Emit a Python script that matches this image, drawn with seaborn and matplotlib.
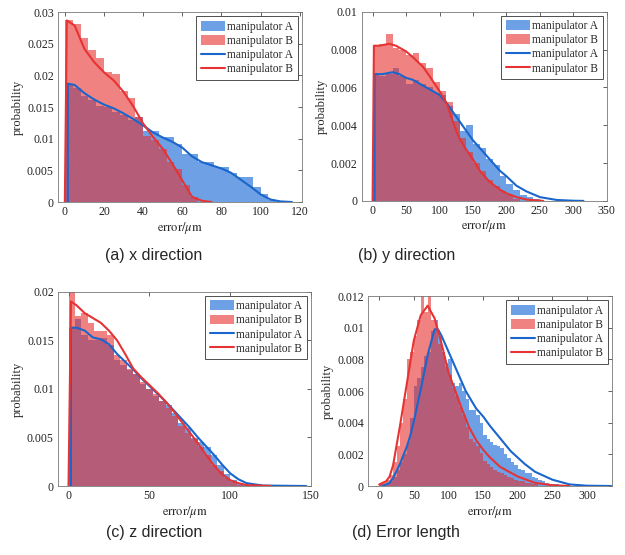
import numpy as np
import pandas as pd
import matplotlib
matplotlib.use("Agg")
import matplotlib.pyplot as plt
import seaborn as sns
from matplotlib import font_manager
from matplotlib.ticker import FuncFormatter

# ---- panel (a) x direction : bar heights per bin, then density curves ----
a_width = 4
a_blue = [.0185, .0181, .0168, .0162, .0152, .0150, .0143, .0138, .0130, .0134,
          .0112, .0112, .0103, .0103, .0092, .0076, .0076, .0063, .0063, .0055,
          .0055, .0046, .0040, .0040, .0024, .0013, .0003]
a_red = [.0287, .0281, .0260, .0240, .0228, .0205, .0203, .0175, .0165, .0135,
         .0105, .0098, .0084, .0063, .0052, .0027, .0008]
a_blue_x = [1.5, 1.5, 5, 10, 15, 20, 25, 30, 35, 40, 45, 50, 55, 60, 65, 70, 75,
            80, 85, 90, 95, 100, 105, 110, 116]
a_blue_y = [0, .0187, .0185, .0172, .0162, .0154, .0148, .0140, .0131, .0121,
            .0110, .0102, .0095, .0086, .0072, .0063, .0058, .0053, .0046, .0035,
            .0024, .0012, .0004, .0001, 0]
a_red_x = [0, 1, 5, 10, 15, 20, 25, 30, 35, 40, 45, 50, 55, 60, 65, 70, 75]
a_red_y = [0, .0287, .0279, .0242, .0221, .0205, .0192, .0174, .0151, .0124,
           .0103, .0084, .0060, .0034, .0008, .0002, 0]

# ---- panel (b) y direction ----
b_width = 10
b_blue = [.0067, .0066, .0067, .0070, .0066, .0062, .0064, .0062, .0060, .0057,
          .0056, .0050, .0046, .0037, .0040, .0030, .0028, .0022, .0019, .0013,
          .0009, .0006, .0003, .0002, .0001]
b_red = [.0082, .0083, .0088, .0081, .0080, .0077, .0078, .0073, .0070, .0063,
         .0058, .0052, .0042, .0033, .0026, .0020, .0016, .0011, .0008, .0005,
         .0003, .0001]
b_blue_x = [3, 3, 15, 30, 40, 50, 60, 75, 90, 100, 110, 120, 130, 140, 150, 160,
            175, 190, 200, 215, 230, 250, 275, 300, 315]
b_blue_y = [0, .0067, .0067, .0068, .0067, .0065, .0064, .0061, .0058, .0056,
            .0052, .0047, .0042, .0037, .0032, .0028, .0022, .0016, .0013, .0008,
            .0005, .0002, .00005, .00001, 0]
b_red_x = [0, 2, 10, 25, 35, 50, 60, 75, 85, 100, 110, 120, 125, 130, 140, 150,
           160, 175, 190, 200, 215, 230, 255]
b_red_y = [0, .0082, .0082, .0083, .0082, .0079, .0076, .0071, .0066, .0058,
           .0052, .0042, .0037, .0033, .0027, .0022, .0016, .0010, .0006, .0004,
           .0002, .00007, 0]

# ---- panel (c) z direction ----
c_width = 4
c_blue = [.0163, .0172, .0155, .0150, .0150, .0152, .0145, .0130, .0125, .0119,
          .0115, .0105, .0100, .0093, .0088, .0083, .0075, .0065, .0060, .0049,
          .0045, .0040, .0032, .0022, .0012, .0006, .0003, .0001]
c_red = [.0200, .0175, .0178, .0168, .0160, .0160, .0155, .0135, .0130, .0120,
         .0115, .0107, .0100, .0095, .0088, .0080, .0072, .0062, .0055, .0048,
         .0040, .0032, .0022, .0015, .0008, .0004, .0001]
c_blue_x = [1.5, 1.5, 5, 10, 15, 20, 25, 30, 35, 40, 45, 50, 55, 60, 65, 70, 75,
            80, 85, 90, 95, 100, 105, 110, 120, 147]
c_blue_y = [0, .0163, .0163, .0160, .0153, .0151, .0146, .0136, .0128, .0120,
            .0111, .0103, .0095, .0087, .0078, .0069, .0060, .0050, .0041, .0032,
            .0022, .0013, .0007, .0003, .00005, 0]
c_red_x = [0, 1.5, 5, 10, 15, 20, 25, 30, 35, 40, 45, 50, 55, 60, 65, 70, 75, 80,
           85, 90, 95, 100, 105, 110, 125]
c_red_y = [0, .0190, .0186, .0178, .0173, .0168, .0160, .0150, .0136, .0121,
           .0112, .0104, .0096, .0087, .0077, .0066, .0055, .0044, .0032, .0021,
           .0012, .0006, .0003, .0001, 0]

# ---- panel (d) error length ----
d_width = 5
d_blue = [.0001, .0001, .0002, .0003, .0006, .0010, .0015, .0020, .0028, .0043,
          .0063, .0068, .0075, .0082, .0085, .0098, .0105, .0095, .0085, .0078,
          .0080, .0065, .0063, .0065, .0060, .0055, .0048, .0048, .0045, .0040,
          .0032, .0030, .0028, .0026, .0025, .0024, .0020, .0018, .0015, .0013,
          .0011, .0010, .0008, .0008, .0006, .0005, .0004, .0003, .0002, .0001,
          .0001, .0001]
d_red = [.0001, .0002, .0004, .0007, .0015, .0025, .0040, .0055, .0080, .0085,
         .0095, .0105, .0120, .0110, .0120, .0105, .0100, .0090, .0085, .0075,
         .0070, .0062, .0057, .0050, .0045, .0037, .0030, .0028, .0025, .0021,
         .0016, .0014, .0012, .0010, .0009, .0008, .0007, .0006, .0005, .0004,
         .0003, .0003, .0002, .0002, .0001, .0001]
d_blue_x = [5, 15, 20, 30, 40, 45, 50, 60, 70, 80, 85, 90, 100, 110, 125, 140,
            150, 160, 175, 190, 200, 210, 225, 250, 275, 300, 335]
d_blue_y = [0, .0002, .0005, .0014, .0025, .0032, .0041, .0061, .0083, .0099,
            .0099, .0095, .0085, .0075, .0060, .0049, .0044, .0038, .0030, .0022,
            .0018, .0014, .0009, .0004, .0001, .00002, 0]
d_red_x = [0, 10, 15, 20, 30, 40, 50, 60, 70, 80, 90, 100, 110, 120, 130, 140,
           150, 160, 175, 200, 225, 250, 275]
d_red_y = [.0001, .0003, .0006, .0013, .0038, .0065, .0092, .0108, .0114, .0106,
           .0090, .0072, .0060, .0048, .0037, .0029, .0023, .0018, .0012, .0006,
           .0002, .00005, 0]

captions = ["(a) x direction", "(b) y direction", "(c) z direction", "(d) Error length"]
labels = ["manipulator A", "manipulator B"]

sns.set_style("white")
plt.rcParams["font.family"] = ["Liberation Serif", "DejaVu Serif"]
plt.rcParams["mathtext.fontset"] = "stix"

# captions are set in a narrow sans face when one is installed
installed = {f.name for f in font_manager.fontManager.ttflist}
if "Liberation Sans Narrow" in installed:
    cap_kw = dict(family="Liberation Sans Narrow", fontsize=13)
else:
    cap_kw = dict(family="Liberation Sans", fontsize=11.5)

blue_fill = (13 / 255, 97 / 255, 213 / 255)
red_fill = (230 / 255, 47 / 255, 47 / 255)
blue_line = (0.10, 0.40, 0.80)
red_line = (0.90, 0.20, 0.20)

fig = plt.figure(figsize=(6.25, 5.55), dpi=100)
positions = [
    [0.0928, 0.636, 0.390, 0.342],
    [0.579, 0.638, 0.392, 0.341],
    [0.0928, 0.1243, 0.405, 0.350],
    [0.589, 0.1243, 0.390, 0.342],
]
panels = [
    (a_width, a_blue, a_red, a_blue_x, a_blue_y, a_red_x, a_red_y,
     (-3.5, 121), 0.03, np.arange(0, 121, 20), np.arange(0, 0.0301, 0.005)),
    (b_width, b_blue, b_red, b_blue_x, b_blue_y, b_red_x, b_red_y,
     (-16, 350), 0.01, np.arange(0, 351, 50), np.arange(0, 0.0101, 0.002)),
    (c_width, c_blue, c_red, c_blue_x, c_blue_y, c_red_x, c_red_y,
     (-6.5, 150), 0.02, np.arange(0, 151, 50), np.arange(0, 0.0201, 0.005)),
    (d_width, d_blue, d_red, d_blue_x, d_blue_y, d_red_x, d_red_y,
     (-16, 336), 0.012, np.arange(0, 301, 50), np.arange(0, 0.01201, 0.002)),
]

for pos, p in zip(positions, panels):
    w, hb, hr, bx, by, rx, ry, xlim, ymax, xt, yt = p
    ax = fig.add_axes(pos)
    for h, col, lab in [(hb, blue_fill, labels[0]), (hr, red_fill, labels[1])]:
        n = len(h)
        df = pd.DataFrame({"err": np.arange(n) * w + w / 2, "prob": h})
        sns.histplot(data=df, x="err", weights="prob", binwidth=w,
                     binrange=(0, n * w), color=col, alpha=0.6, linewidth=0,
                     label=lab, ax=ax)
    sns.lineplot(x=bx, y=by, color=blue_line, lw=1.5, estimator=None, sort=False,
                 label=labels[0], ax=ax)
    sns.lineplot(x=rx, y=ry, color=red_line, lw=1.5, estimator=None, sort=False,
                 label=labels[1], ax=ax)
    ax.set_xlim(*xlim)
    ax.set_ylim(0, ymax)
    ax.set_xticks(xt)
    ax.set_yticks(yt)
    ax.yaxis.set_major_formatter(FuncFormatter(lambda v, _: "%g" % round(v, 4)))
    ax.tick_params(direction="in", top=True, right=True, length=3, width=0.5,
                   labelsize=8.5, colors="#222222", pad=3)
    for s in ax.spines.values():
        s.set_color("#777777")
        s.set_linewidth(0.6)
    ax.set_xlabel(r"$\mathrm{error}/\mu\mathrm{m}$", fontsize=9, labelpad=1)
    ax.set_ylabel("probability", fontsize=9, labelpad=2)

    # histogram patches first, then the density lines
    handles, labs = ax.get_legend_handles_labels()
    order = [2, 3, 0, 1] if not hasattr(handles[0], "patches") else [0, 1, 2, 3]
    leg = ax.legend([handles[i] for i in order], [labs[i] for i in order],
                    loc="upper right", fontsize=8.3, frameon=True, fancybox=False,
                    framealpha=1, edgecolor="#333333", handlelength=2.1,
                    handleheight=0.95, labelspacing=0.18, borderpad=0.4,
                    borderaxespad=0.35, handletextpad=0.2)
    leg.get_frame().set_linewidth(0.6)

cap_pos = [(0.246, 0.5405), (0.651, 0.5405), (0.246, 0.0414), (0.650, 0.0414)]
for (cx, cy), t in zip(cap_pos, captions):
    fig.text(cx, cy, t, ha="center", va="center", **cap_kw)

fig.savefig("out.png", dpi=100)
